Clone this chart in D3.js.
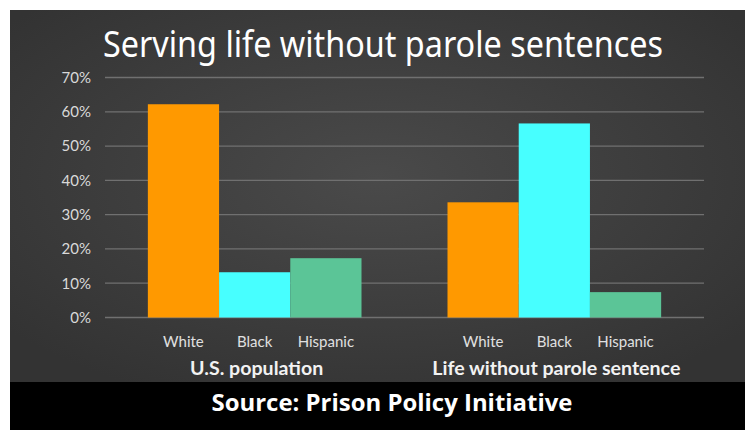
<!DOCTYPE html>
<html>
<head>
<meta charset="utf-8">
<script src="https://cdn.jsdelivr.net/npm/d3@7"></script>
<style>
  html, body { margin: 0; padding: 0; background: #fff; }
  svg { display: block; }
</style>
</head>
<body>
<div id="chart"></div>
<script>
// data
var groups = ["U.S. population", "Life without parole sentence"];
var races = ["White", "Black", "Hispanic"];
var usPopulation = [62.2, 13.2, 17.3];
var lifeWithoutParole = [33.6, 56.6, 7.4];
var yTicks = [0, 10, 20, 30, 40, 50, 60, 70];
var colors = ["#ff9900", "#47ffff", "#5bc597"];

var width = 745, height = 430;
var margin = ({top: 77.5, right: 41, bottom: 112.5, left: 105});

var data = groups.map(function(g, i) {
  var vals = i === 0 ? usPopulation : lifeWithoutParole;
  return {group: g, values: races.map((r, j) => ({race: r, value: vals[j]}))};
});

var svg = d3.select("#chart")
  .append("svg")
    .attr("width", width)
    .attr("height", height);

// vignette background
var grad = svg.append("defs").append("radialGradient")
    .attr("id", "bg")
    .attr("cx", "50%").attr("cy", "45%").attr("r", "65%");
grad.append("stop").attr("offset", "0%").attr("stop-color", "#4a4a4a");
grad.append("stop").attr("offset", "100%").attr("stop-color", "#333333");

svg.append("rect")
    .attr("x", 10).attr("y", 10)
    .attr("width", width - 10).attr("height", 372)
    .attr("fill", "url(#bg)");

svg.append("rect")
    .attr("x", 10).attr("y", 382)
    .attr("width", width - 10).attr("height", height - 382)
    .attr("fill", "#000");

var x0 = d3.scaleBand()
    .domain(groups)
    .range([margin.left, width - margin.right])
    .paddingInner(0.287)
    .paddingOuter(0.143);

var x1 = d3.scaleBand()
    .domain(races)
    .range([0, x0.bandwidth()]);

var y = d3.scaleLinear()
    .domain([0, 70])
    .range([height - margin.bottom, margin.top]);

// gridlines
svg.append("g")
  .selectAll("line")
  .data(yTicks)
  .join("line")
    .attr("x1", margin.left)
    .attr("x2", width - margin.right)
    .attr("y1", d => y(d))
    .attr("y2", d => y(d))
    .attr("stroke", "#707070")
    .attr("stroke-width", 1.3);

// y axis labels
var yAxis = g => g
    .attr("transform", `translate(${margin.left},0)`)
    .call(d3.axisLeft(y).tickValues(yTicks).tickFormat(d => d + "%").tickSize(0).tickPadding(14))
    .call(g => g.select(".domain").remove())
    .call(g => g.selectAll("text")
        .attr("fill", "#d9d9d9")
        .style("font", "15px Lato, 'Noto Sans', sans-serif"));

svg.append("g").call(yAxis);

// bars
var gGroup = svg.append("g")
  .selectAll("g")
  .data(data)
  .join("g")
    .attr("transform", d => `translate(${x0(d.group)},0)`);

gGroup.selectAll("rect")
  .data(d => d.values)
  .join("rect")
    .attr("x", d => x1(d.race))
    .attr("y", d => y(d.value))
    .attr("width", x1.bandwidth())
    .attr("height", d => y(0) - y(d.value))
    .attr("fill", (d, i) => colors[i]);

// category labels
gGroup.selectAll("text.race")
  .data(d => d.values)
  .join("text")
    .attr("class", "race")
    .attr("x", d => x1(d.race) + x1.bandwidth() / 2)
    .attr("y", 346.5)
    .attr("text-anchor", "middle")
    .attr("fill", "#e0e0e0")
    .style("font", "15px Lato, 'Noto Sans', sans-serif")
    .text(d => d.race);

// group labels
gGroup.append("text")
    .attr("x", x0.bandwidth() / 2 + 2)
    .attr("y", 375)
    .attr("text-anchor", "middle")
    .attr("fill", "#f2f2f2")
    .style("font", "bold 19.6px Lato, 'Noto Sans', sans-serif")
    .text(d => d.group);

// title
svg.append("text")
    .attr("x", 383)
    .attr("y", 57)
    .attr("text-anchor", "middle")
    .attr("fill", "#ffffff")
    .attr("textLength", 560)
    .attr("lengthAdjust", "spacingAndGlyphs")
    .style("font", "36px 'Noto Sans', Lato, sans-serif")
    .text("Serving life without parole sentences");

// source
svg.append("text")
    .attr("x", 392)
    .attr("y", 411)
    .attr("text-anchor", "middle")
    .attr("fill", "#ffffff")
    .attr("textLength", 361)
    .attr("lengthAdjust", "spacingAndGlyphs")
    .style("font", "bold 24px 'Open Sans', 'Noto Sans', sans-serif")
    .text("Source: Prison Policy Initiative");
</script>
</body>
</html>
